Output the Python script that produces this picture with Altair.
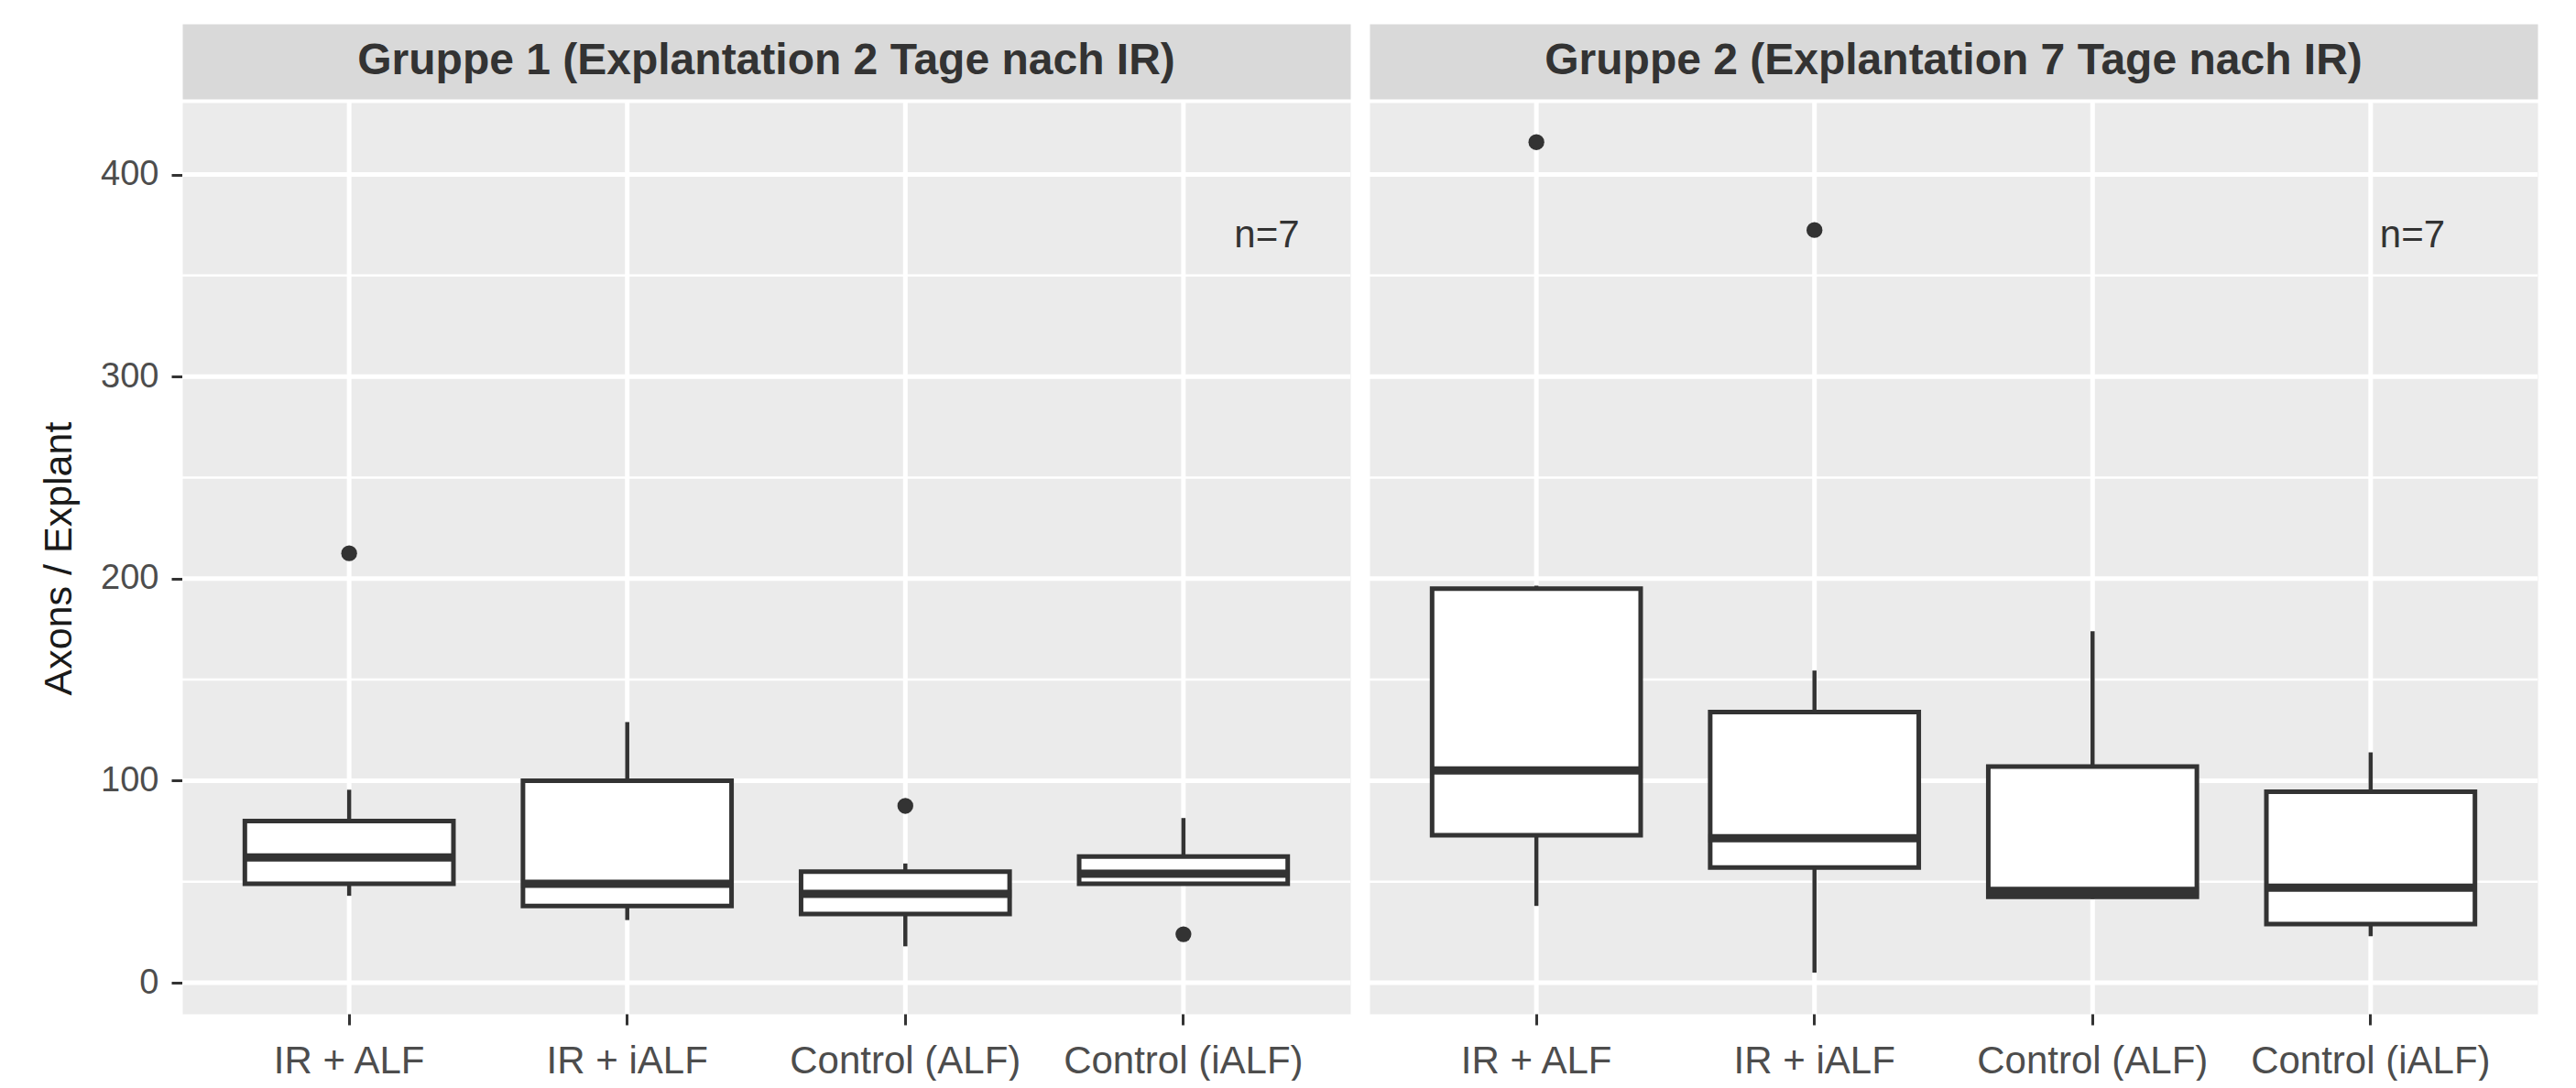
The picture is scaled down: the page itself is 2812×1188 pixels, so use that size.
import altair as alt
import pandas as pd

FONT = "Liberation Sans"

groups = ["Gruppe 1 (Explantation 2 Tage nach IR)", "Gruppe 2 (Explantation 7 Tage nach IR)"]
categories = ["IR + ALF", "IR + iALF", "Control (ALF)", "Control (iALF)"]

# Box statistics per group (lower whisker, Q1, median, Q3, upper whisker)
g1_lower = [43, 31, 18, 48.5]
g1_q1 = [49, 38, 34, 49]
g1_median = [62, 49, 44, 54]
g1_q3 = [80, 100, 55, 62.5]
g1_upper = [95.5, 129, 59, 81.5]
g1_out_cat = ["IR + ALF", "Control (ALF)", "Control (iALF)"]
g1_out_val = [212.5, 87.5, 24]

g2_lower = [38, 5, 41.5, 23]
g2_q1 = [73, 57, 42.5, 29]
g2_median = [105, 71.5, 45.5, 47]
g2_q3 = [195, 134, 107, 94.5]
g2_upper = [196.5, 154.5, 174, 114]
g2_out_cat = ["IR + ALF", "IR + iALF"]
g2_out_val = [416, 372.5]

n_label = ["n=7", "n=7"]
n_label_y = [370, 370]

major_y = [0, 100, 200, 300, 400]
minor_y = [50, 150, 250, 350]
y_domain = [-15.4, 435.6]

stats = [
    (g1_lower, g1_q1, g1_median, g1_q3, g1_upper, g1_out_cat, g1_out_val),
    (g2_lower, g2_q1, g2_median, g2_q3, g2_upper, g2_out_cat, g2_out_val),
]

W = 1275
H = 995
STRIP_H = 82
STEP = W / 4.2
DARK = "#333333"
N_DX = [0.3 * STEP, 0.15 * STEP]  # label offset to the right of the last category

xscale = alt.Scale(type="band", domain=categories, paddingInner=0, paddingOuter=0.1)
yscale = alt.Scale(domain=y_domain, nice=False, zero=False)


def panel(i):
    lo, q1, med, q3, up, oc, ov = stats[i]
    box_df = pd.DataFrame({"cat": categories, "lower": lo, "q1": q1, "median": med, "q3": q3, "upper": up})
    out_df = pd.DataFrame({"cat": oc, "val": ov})
    cat_df = pd.DataFrame({"cat": categories})
    major_df = pd.DataFrame({"v": major_y})
    minor_df = pd.DataFrame({"v": minor_y})
    n_df = pd.DataFrame({"cat": [categories[-1]], "v": [n_label_y[i]], "t": [n_label[i]]})

    if i == 0:
        yaxis = alt.Axis(values=major_y, grid=False, domain=False, ticks=True, tickColor=DARK,
                         tickWidth=3, tickSize=12, labelFontSize=38, labelColor="#4D4D4D",
                         labelPadding=14, labelFont=FONT, title="Axons / Explant",
                         titleFontSize=43, titleFont=FONT, titleFontWeight="normal",
                         titleColor="#1A1A1A", titlePadding=23)
    else:
        yaxis = None

    xaxis = alt.Axis(title=None, domain=False, grid=False, ticks=True, tickColor=DARK, tickWidth=3,
                     tickSize=12, labelAngle=0, labelFontSize=42, labelColor="#4D4D4D",
                     labelFont=FONT, labelPadding=19, labelLimit=0)

    X = alt.X("cat:N", scale=xscale, axis=xaxis, sort=categories)

    minor = alt.Chart(minor_df).mark_rule(color="white", strokeWidth=2.5).encode(
        y=alt.Y("v:Q", scale=yscale, axis=yaxis))
    major = alt.Chart(major_df).mark_rule(color="white", strokeWidth=5).encode(
        y=alt.Y("v:Q", scale=yscale, axis=yaxis))
    vgrid = alt.Chart(cat_df).mark_rule(color="white", strokeWidth=5).encode(x=X)

    wl = alt.Chart(box_df).mark_rule(color=DARK, strokeWidth=4.5).encode(
        x=X, y=alt.Y("lower:Q", scale=yscale, axis=yaxis), y2="q1:Q")
    wu = alt.Chart(box_df).mark_rule(color=DARK, strokeWidth=4.5).encode(
        x=X, y=alt.Y("q3:Q", scale=yscale, axis=yaxis), y2="upper:Q")
    box = alt.Chart(box_df).mark_bar(fill="white", stroke=DARK, strokeWidth=5,
                                      width=alt.RelativeBandSize(0.75)).encode(
        x=X, y=alt.Y("q1:Q", scale=yscale, axis=yaxis), y2="q3:Q")
    med_m = alt.Chart(box_df).mark_tick(color=DARK, thickness=9, size=0.75 * STEP + 4, opacity=1).encode(
        x=X, y=alt.Y("median:Q", scale=yscale, axis=yaxis))
    outs = alt.Chart(out_df).mark_point(filled=True, color=DARK, size=300, opacity=1).encode(
        x=X, y=alt.Y("val:Q", scale=yscale, axis=yaxis))
    ntext = alt.Chart(n_df).mark_text(font=FONT, fontSize=42, color="#333333", dx=N_DX[i],
                                      align="center", baseline="middle").encode(
        x=X, y=alt.Y("v:Q", scale=yscale, axis=yaxis), text="t:N")

    plot = alt.layer(minor, major, vgrid, wl, wu, box, med_m, outs, ntext).properties(
        width=W, height=H, view=alt.ViewBackground(fill="#EBEBEB", stroke="transparent"))

    strip = alt.Chart(pd.DataFrame({"g": [groups[i]]})).mark_text(
        font=FONT, fontSize=48, fontWeight="bold", color="#333333", baseline="middle").encode(
        x=alt.X("g:N", axis=None), text="g:N").properties(
        width=W, height=STRIP_H, view=alt.ViewBackground(fill="#D9D9D9", stroke="transparent"))

    return alt.vconcat(strip, plot, spacing=0)


chart = alt.hconcat(panel(0), panel(1), spacing=15).properties(
    padding={"left": 35, "top": 17, "right": 0, "bottom": 0},
    background="white",
).configure_view(stroke="transparent")

chart.save("out.html", embed_options={"renderer": "svg", "actions": False})
